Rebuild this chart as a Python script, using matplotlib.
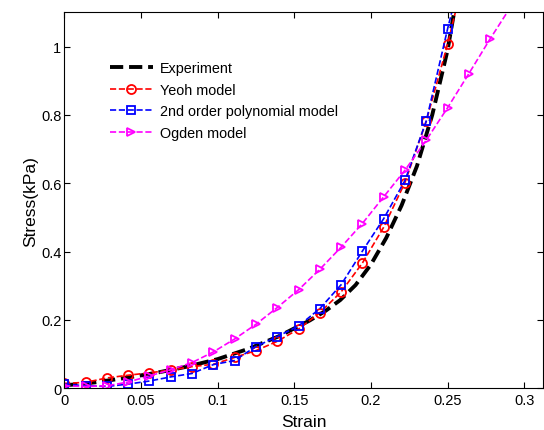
import matplotlib.pyplot as plt

plt.rcParams['font.family'] = ['Liberation Sans', 'DejaVu Sans']

exp_strain = [0, 0.02, 0.04, 0.06, 0.08, 0.1, 0.12, 0.14, 0.16, 0.17, 0.18, 0.19,
              0.2, 0.21, 0.22, 0.23, 0.24, 0.25, 0.255]
exp_stress = [0.008, 0.017, 0.03, 0.045, 0.063, 0.085, 0.115, 0.152, 0.198, 0.225, 0.258, 0.302,
              0.362, 0.44, 0.535, 0.65, 0.8, 0.99, 1.12]

model_strain = [0, 0.0139, 0.0278, 0.0417, 0.0556, 0.0694, 0.0833, 0.0972, 0.1111, 0.125,
                0.1389, 0.1528, 0.1667, 0.1806, 0.1944, 0.2083, 0.2222, 0.2361, 0.25, 0.2583]
yeoh = [0.014, 0.017, 0.03, 0.038, 0.045, 0.053, 0.063, 0.07, 0.09, 0.11,
        0.137, 0.173, 0.221, 0.282, 0.366, 0.471, 0.602, 0.782, 1.007, 1.16]
poly = [0.012, 0.007, 0.005, 0.012, 0.021, 0.033, 0.043, 0.069, 0.081, 0.122,
        0.151, 0.182, 0.233, 0.303, 0.401, 0.496, 0.608, 0.782, 1.052, 1.2]

ogden_strain = [0, 0.0139, 0.0278, 0.0417, 0.0556, 0.0694, 0.0833, 0.0972, 0.1111, 0.125,
                0.1389, 0.1528, 0.1667, 0.1806, 0.1944, 0.2083, 0.2222, 0.2361, 0.25,
                0.2639, 0.2778, 0.2917]
ogden = [0.007, 0.005, 0.007, 0.018, 0.036, 0.054, 0.075, 0.106, 0.144, 0.187,
         0.236, 0.288, 0.348, 0.413, 0.482, 0.56, 0.638, 0.726, 0.821,
         0.921, 1.023, 1.12]

fig = plt.figure(figsize=(5.44, 4.31), dpi=100)
ax = fig.add_axes([0.118, 0.097, 0.881, 0.872])

ax.plot(exp_strain, exp_stress, color='black', ls='--', lw=2.8, dashes=(3.4, 1.5), label='Experiment')
ax.plot(model_strain, yeoh, color='red', ls='--', lw=1.2, marker='o', ms=6.5, mfc='none', mew=1.3,
        label='Yeoh model')
ax.plot(model_strain, poly, color='blue', ls='--', lw=1.2, marker='s', ms=6, mfc='none', mew=1.3,
        label='2nd order polynomial model')
ax.plot(ogden_strain, ogden, color='magenta', ls='--', lw=1.2, marker='>', ms=6, mfc='none', mew=1.3,
        label='Ogden model')

ax.set_xlim(0, 0.3125)
ax.set_ylim(0, 1.1)
ax.set_xticks([0, 0.05, 0.1, 0.15, 0.2, 0.25, 0.3])
ax.set_xticklabels(['0', '0.05', '0.1', '0.15', '0.2', '0.25', '0.3'])
ax.set_yticks([0, 0.2, 0.4, 0.6, 0.8, 1])
ax.set_yticklabels(['0', '0.2', '0.4', '0.6', '0.8', '1'])
ax.tick_params(direction='in', top=True, right=True, length=4, labelsize=10.5)
ax.tick_params(axis='y', pad=2)
ax.set_xlabel('Strain', fontsize=12.5, labelpad=5)
ax.set_ylabel('Stress(kPa)', fontsize=12.5, labelpad=2)

ax.legend(loc='upper left', bbox_to_anchor=(0.068, 0.905), frameon=False, fontsize=10.4,
          handlelength=3.0, handletextpad=0.5, labelspacing=0.52)

fig.savefig('out.png', dpi=100)
